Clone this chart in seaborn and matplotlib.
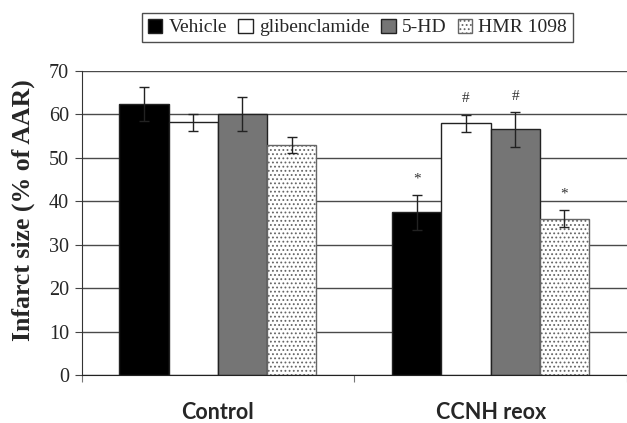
import matplotlib
matplotlib.use('Agg')
import matplotlib.pyplot as plt
import pandas as pd
import seaborn as sns

# data
groups = ['Control', 'CCNH reox']
treatments = ['Vehicle', 'glibenclamide', '5-HD', 'HMR 1098']
vehicle = [62.4, 37.4]
vehicle_err = [3.9, 4.0]
glib = [58.1, 57.9]
glib_err = [1.9, 2.0]
five_hd = [60.0, 56.5]
five_hd_err = [3.9, 4.0]
hmr = [52.9, 36.0]
hmr_err = [1.9, 2.0]
# significance marks per treatment, per group
marks = {'Vehicle': ['', '*'], 'glibenclamide': ['', '#'],
         '5-HD': ['', '#'], 'HMR 1098': ['', '*']}

means = {'Vehicle': vehicle, 'glibenclamide': glib, '5-HD': five_hd, 'HMR 1098': hmr}
errs = {'Vehicle': vehicle_err, 'glibenclamide': glib_err, '5-HD': five_hd_err, 'HMR 1098': hmr_err}

rows = []
for t in treatments:
    for g, v in zip(groups, means[t]):
        rows.append({'group': g, 'treatment': t, 'value': v})
df = pd.DataFrame(rows)

sns.set_style('white')
plt.rcParams['font.family'] = ['Liberation Serif', 'DejaVu Serif']
plt.rcParams['hatch.linewidth'] = 0.8

fig = plt.figure(figsize=(6.27, 4.23), dpi=100)
ax = fig.add_axes([0.130, 0.113, 0.870, 0.720])

palette = {'Vehicle': '#000000', 'glibenclamide': '#ffffff', '5-HD': '#757575', 'HMR 1098': '#ffffff'}
sns.barplot(data=df, x='group', y='value', hue='treatment', hue_order=treatments,
            order=groups, palette=palette, errorbar=None, width=0.722,
            edgecolor='#222222', linewidth=1.0, saturation=1, legend=False, ax=ax, zorder=2)

# dotted fill for HMR 1098
for bar in ax.containers[3]:
    bar.set_hatch('....')
    bar.set_edgecolor('#666666')

# error bars and significance marks
for cont, t in zip(ax.containers, treatments):
    xs = [b.get_x() + b.get_width() / 2 for b in cont]
    ax.errorbar(xs, means[t], yerr=errs[t], fmt='none', ecolor='#222222',
                elinewidth=1.0, capsize=3.5, capthick=1.0, zorder=3)
    for x, m, e, s in zip(xs, means[t], errs[t], marks[t]):
        if s:
            ax.text(x, m + e + 3.6, s, ha='center', va='center', fontsize=11, color='#333333')

ax.set_ylim(0, 70)
ax.set_xlim(-0.5, 1.471)
ax.set_yticks(range(0, 71, 10))
ax.yaxis.grid(True, color='#4a4a4a', linewidth=1.0, zorder=0)
ax.set_axisbelow(True)
ax.tick_params(axis='y', which='major', direction='out', length=5, color='#444444',
               labelsize=14.5, pad=4, left=True)

# category labels sit between boundary ticks
ax.set_xticks([-0.5, 0.5, 1.5])
ax.set_xticklabels([])
ax.tick_params(axis='x', which='major', direction='out', length=5, color='#777777', bottom=True)
ax.set_xticks([0, 1], minor=True)
ax.set_xticklabels(groups, minor=True, fontsize=15.5, fontweight='bold', family='Lato')
ax.tick_params(axis='x', which='minor', length=0, pad=19)
ax.set_xlabel('')
ax.set_ylabel('Infarct size (% of AAR)', fontsize=18.5, fontweight='bold')
ax.yaxis.set_label_coords(-0.086, 0.543)

for side in ['top', 'right']:
    ax.spines[side].set_visible(False)
ax.spines['left'].set_color('#333333')
ax.spines['bottom'].set_color('#222222')

leg = fig.legend(ax.containers, treatments, loc='center', bbox_to_anchor=(0.570, 0.935),
                 ncol=4, fontsize=14, frameon=True, fancybox=False, edgecolor='#222222',
                 handlelength=0.75, handleheight=0.75, handletextpad=0.3, columnspacing=0.6,
                 borderpad=0.3, borderaxespad=0)
leg.get_frame().set_linewidth(1.0)

fig.savefig('out.png', dpi=100)
